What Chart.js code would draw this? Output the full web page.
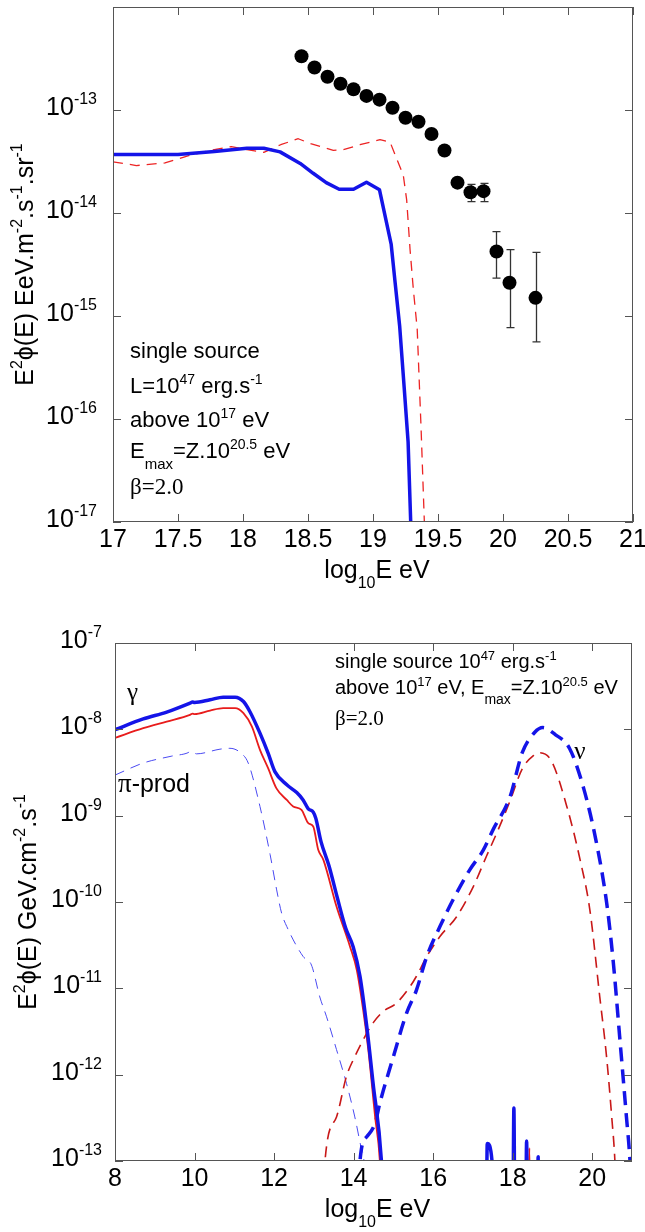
<!DOCTYPE html>
<html>
<head>
<meta charset="utf-8">
<script src="https://cdn.jsdelivr.net/npm/chart.js@4.4.1/dist/chart.umd.min.js"></script>
<style>
  html,body{margin:0;padding:0;background:#fff;}
  canvas{display:block;}
</style>
</head>
<body>
<canvas id="topChart" width="645" height="600"></canvas>
<canvas id="botChart" width="645" height="632"></canvas>
<script>
/* ================= TOP PANEL DATA ================= */
const topXTicks  = [17, 17.5, 18, 18.5, 19, 19.5, 20, 20.5, 21];
const topXLabels = ["17", "17.5", "18", "18.5", "19", "19.5", "20", "20.5", "21"];
const topYTicks  = [1e-17, 1e-16, 1e-15, 1e-14, 1e-13];
const topYExp    = ["-17", "-16", "-15", "-14", "-13"];

// measured spectrum (points + error bars)
const topDataE    = [18.45, 18.55, 18.65, 18.75, 18.85, 18.95, 19.05, 19.15, 19.25, 19.35, 19.45, 19.55, 19.65, 19.75, 19.85, 19.95, 20.05, 20.25];
const topDataFlux = [3.33e-13, 2.59e-13, 2.10e-13, 1.80e-13, 1.59e-13, 1.37e-13, 1.26e-13, 1.05e-13, 8.4e-14, 7.7e-14, 5.85e-14, 4.05e-14, 1.97e-14, 1.59e-14, 1.63e-14, 4.23e-15, 2.10e-15, 1.50e-15];
const topErrLo    = [null, null, null, null, null, null, null, null, null, null, null, null, null, 1.29e-14, 1.29e-14, 2.33e-15, 7.7e-16, 5.6e-16];
const topErrHi    = [null, null, null, null, null, null, null, null, null, null, null, null, null, 1.90e-14, 1.94e-14, 6.6e-15, 4.4e-15, 4.15e-15];

// model, blue solid
const topBlueE = [17, 17.5, 17.78, 18.03, 18.16, 18.285, 18.44, 18.54, 18.64, 18.74, 18.85, 18.95, 19.05, 19.14, 19.17, 19.205, 19.24, 19.27, 19.29, 19.31];
const topBlueF = [3.69e-14, 3.69e-14, 3.95e-14, 4.26e-14, 4.26e-14, 3.92e-14, 3.03e-14, 2.43e-14, 1.97e-14, 1.70e-14, 1.70e-14, 1.99e-14, 1.68e-14, 4.95e-15, 2.12e-15, 8.0e-16, 2.0e-16, 6e-17, 1e-17, 1e-18];

// model, red dashed
const topRedE = [17, 17.18, 17.40, 17.59, 17.75, 17.91, 18.03, 18.16, 18.29, 18.425, 18.52, 18.695, 18.77, 18.9, 19.054, 19.131, 19.233, 19.259, 19.285, 19.31, 19.34, 19.37, 19.395, 19.42];
const topRedF = [3.14e-14, 2.89e-14, 3.06e-14, 3.63e-14, 4.05e-14, 4.41e-14, 4.12e-14, 3.88e-14, 4.6e-14, 5.26e-14, 4.71e-14, 4.06e-14, 4.12e-14, 4.6e-14, 5.15e-14, 4.89e-14, 2.33e-14, 1.34e-14, 4.43e-15, 1.83e-15, 7.5e-16, 8e-17, 1e-17, 1e-18];

/* ================= BOTTOM PANEL DATA ================= */
const botXTicks  = [8, 10, 12, 14, 16, 18, 20];
const botXLabels = ["8", "10", "12", "14", "16", "18", "20"];
const botYTicks  = [1e-13, 1e-12, 1e-11, 1e-10, 1e-9, 1e-8, 1e-7];
const botYExp    = ["-13", "-12", "-11", "-10", "-9", "-8", "-7"];

// gamma total, blue solid
const gammaE = [8.0, 8.71, 9.30, 9.885, 9.95, 10.0, 10.39, 10.72, 11.02, 11.23, 11.39, 11.645, 11.85, 12.02, 12.32, 12.57, 12.73, 12.86, 12.985, 13.05, 13.18, 13.38, 13.59, 13.80, 13.99, 14.16, 14.33, 14.49, 14.70, 14.80,
                17.33, 17.36, 17.48, 17.50, 18.00, 18.03, 18.06, 18.32, 18.35, 18.38, 18.62, 18.64, 18.66];
const gammaF = [9.9e-9, 1.32e-8, 1.585e-8, 2.01e-8, 2.07e-8, 2.05e-8, 2.20e-8, 2.36e-8, 2.36e-8, 2.10e-8, 1.61e-8, 9.03e-9, 5.30e-9, 3.24e-9, 2.28e-9, 1.85e-9, 1.52e-9, 1.20e-9, 1.10e-9, 9.3e-10, 5.0e-10, 2.63e-10, 1.12e-10, 5.0e-11, 3.02e-11, 1.38e-11, 3.63e-12, 7.9e-13, 1e-13, 1e-14,
                1e-14, 1.6e-13, 1e-13, 1e-14, 1e-14, 4.1e-13, 1e-14, 1e-14, 1.7e-13, 1e-14, 1e-14, 1.12e-13, 1e-14];

// gamma second curve, red solid
const gammaRedE = [8.0, 8.71, 9.30, 9.885, 9.95, 10.0, 10.39, 10.72, 11.02, 11.23, 11.44, 11.645, 11.85, 12.06, 12.32, 12.48, 12.69, 12.86, 12.985, 13.11, 13.24, 13.57, 13.91, 14.08, 14.24, 14.37, 14.54, 14.66, 14.75, 18.38, 18.42, 18.45];
const gammaRedF = [7.94e-9, 1.03e-8, 1.23e-8, 1.47e-8, 1.52e-8, 1.50e-8, 1.65e-8, 1.76e-8, 1.76e-8, 1.54e-8, 1.08e-8, 5.79e-9, 3.55e-9, 2.07e-9, 1.52e-9, 1.28e-9, 1.17e-9, 8.18e-10, 7.48e-10, 4.02e-10, 3.08e-10, 8.85e-11, 3.04e-11, 1.63e-11, 5.62e-12, 1.93e-12, 3.26e-13, 1e-13, 1e-14, 1e-14, 1.41e-13, 1e-14];

// pi-production, thin blue dashed
const piE = [8.0, 8.71, 9.43, 9.84, 9.90, 10.05, 10.64, 10.89, 11.18, 11.35, 11.645, 11.90, 12.065, 12.19, 12.32, 12.73, 12.94, 13.15, 13.32, 13.57, 13.82, 14.03, 14.20, 14.26, 14.35];
const piF = [2.95e-9, 4.07e-9, 4.90e-9, 5.37e-9, 5.6e-9, 5.2e-9, 5.89e-9, 6.03e-9, 5.25e-9, 4.07e-9, 1.28e-9, 3.55e-10, 1.38e-10, 7.41e-11, 5.19e-11, 2.34e-11, 1.86e-11, 7.94e-12, 4.68e-12, 1.95e-12, 7.94e-13, 3.24e-13, 1.35e-13, 1e-13, 1e-14];

// neutrinos, thick blue dashed
const nuE = [14.10, 14.16, 14.33, 14.54, 14.66, 15.0, 15.33, 15.58, 15.84, 16.17, 16.50, 16.92, 17.26, 17.52, 17.93, 18.24, 18.55, 18.76, 19.07, 19.43, 19.79, 20.10, 20.36, 20.53, 20.69, 20.86, 20.95, 21.05];
const nuF = [1e-14, 1e-13, 1.91e-13, 2.75e-13, 4.68e-13, 1.62e-12, 5.13e-12, 9.55e-12, 2.34e-11, 5.19e-11, 1.06e-10, 2.36e-10, 3.98e-10, 7.08e-10, 1.64e-9, 5.36e-9, 9.18e-9, 1.047e-8, 8.7e-9, 6.0e-9, 2.03e-9, 5.01e-10, 1e-10, 2.0e-11, 2.75e-12, 3.24e-13, 1e-13, 1e-14];

// neutrinos, red dashed
const nuRedE = [13.20, 13.28, 13.57, 13.82, 14.03, 14.33, 14.49, 14.74, 15.08, 15.42, 15.58, 15.84, 16.17, 16.59, 17.01, 17.34, 17.6, 17.93, 18.24, 18.55, 18.65, 18.97, 19.38, 19.69, 19.94, 20.19, 20.36, 20.49, 20.57, 20.65];
const nuRedF = [1e-14, 1e-13, 3.24e-13, 9.55e-13, 1.62e-12, 3.02e-12, 3.98e-12, 5.37e-12, 6.76e-12, 1.05e-11, 1.38e-11, 2.34e-11, 3.98e-11, 6.76e-11, 1.51e-10, 3.39e-10, 6.31e-10, 1.47e-9, 3.48e-9, 5.08e-9, 5.36e-9, 4.33e-9, 1.19e-9, 3.16e-10, 8.13e-11, 7.94e-12, 1.62e-12, 3.24e-13, 1e-13, 1e-14];

/* ================= HELPERS ================= */
const SANS  = '"Liberation Sans", Arial, Helvetica, sans-serif';
const SERIF = '"Liberation Serif", "Times New Roman", serif';

function pts(xs, ys){ return xs.map((v, i) => ({x: v, y: ys[i]})); }

// parts: [text, size, dy, family]
function rich(ctx, parts, x, y, align){
  let w = 0;
  parts.forEach(p => { ctx.font = p[1] + "px " + (p[3] || SANS); w += ctx.measureText(p[0]).width; });
  let cx = align === "right" ? x - w : align === "center" ? x - w / 2 : x;
  parts.forEach(p => {
    ctx.font = p[1] + "px " + (p[3] || SANS);
    ctx.fillText(p[0], cx, y + (p[2] || 0));
    cx += ctx.measureText(p[0]).width;
  });
}

function line(data, color, width, dash, smooth){
  return {
    data, borderColor: color, borderWidth: width, borderDash: dash || [],
    pointRadius: 0, fill: false, clip: 0, borderJoinStyle: "round",
    cubicInterpolationMode: smooth ? "monotone" : "default", tension: 0
  };
}

// frame, inward ticks, tick labels, titles
function axesPlugin(cfg){
  return {
    id: "axes",
    afterDraw(chart){
      const {ctx, chartArea: a, scales: {x, y}} = chart;
      ctx.save();
      ctx.strokeStyle = "#555";
      ctx.lineWidth = 1;
      ctx.strokeRect(a.left + 0.5, a.top + 0.5, a.right - a.left - 1, a.bottom - a.top - 1);
      ctx.beginPath();
      cfg.xTicks.forEach(v => {
        const px = Math.round(x.getPixelForValue(v)) + 0.5;
        ctx.moveTo(px, a.bottom); ctx.lineTo(px, a.bottom - 8);
        ctx.moveTo(px, a.top);    ctx.lineTo(px, a.top + 8);
      });
      cfg.yTicks.forEach(v => {
        const py = Math.round(y.getPixelForValue(v)) + 0.5;
        ctx.moveTo(a.left, py);  ctx.lineTo(a.left + 8, py);
        ctx.moveTo(a.right, py); ctx.lineTo(a.right - 8, py);
      });
      ctx.stroke();

      ctx.fillStyle = "#000";
      ctx.textBaseline = "alphabetic";
      ctx.textAlign = "left";
      cfg.xTicks.forEach((v, i) => {
        rich(ctx, [[cfg.xLabels[i], 25]], x.getPixelForValue(v), a.bottom + 25, "center");
      });
      cfg.yTicks.forEach((v, i) => {
        rich(ctx, [["10", 25], [cfg.yExp[i], 16, -11]], a.left - cfg.yGap, y.getPixelForValue(v) + 5, "right");
      });
      // x title
      rich(ctx, [["log", 25], ["10", 16, 10], ["E eV", 25]], (a.left + a.right) / 2 + 4, a.bottom + 56, "center");
      // y title
      ctx.save();
      ctx.translate(cfg.yTitleX, (a.top + a.bottom) / 2);
      ctx.rotate(-Math.PI / 2);
      rich(ctx, cfg.yTitle, 0, 0, "center");
      ctx.restore();
      cfg.notes(ctx);
      ctx.restore();
    }
  };
}

/* ================= TOP CHART ================= */
const errorBars = {
  id: "errorBars",
  beforeDatasetsDraw(chart){
    const {ctx, scales: {x, y}} = chart;
    ctx.save();
    ctx.strokeStyle = "#333";
    ctx.lineWidth = 1.3;
    topDataE.forEach((e, i) => {
      if (topErrLo[i] == null) return;
      const px = Math.round(x.getPixelForValue(e)) + 0.5;
      const y1 = y.getPixelForValue(topErrLo[i]);
      const y2 = y.getPixelForValue(topErrHi[i]);
      ctx.beginPath();
      ctx.moveTo(px, y1); ctx.lineTo(px, y2);
      ctx.moveTo(px - 4, y1); ctx.lineTo(px + 4, y1);
      ctx.moveTo(px - 4, y2); ctx.lineTo(px + 4, y2);
      ctx.stroke();
    });
    ctx.restore();
  }
};

new Chart(document.getElementById("topChart"), {
  type: "line",
  data: {
    datasets: [
      { data: pts(topDataE, topDataFlux), showLine: false, pointRadius: 7, pointBackgroundColor: "#000",
        pointBorderColor: "#000", pointBorderWidth: 0, clip: 0 },
      line(pts(topBlueE, topBlueF), "#1414e8", 3.5),
      line(pts(topRedE, topRedF), "#ec2424", 1.3, [10, 7])
    ]
  },
  options: {
    responsive: false, devicePixelRatio: 1, animation: false,
    layout: { padding: { left: 113, top: 2, right: 12, bottom: 78 } },
    plugins: { legend: { display: false }, tooltip: { enabled: false } },
    scales: {
      x: { type: "linear", min: 17, max: 21, display: false },
      y: { type: "logarithmic", min: 1e-17, max: 1e-12, display: false }
    }
  },
  plugins: [errorBars, axesPlugin({
    xTicks: topXTicks, xLabels: topXLabels, yTicks: topYTicks, yExp: topYExp, yGap: 16,
    yTitleX: 33,
    yTitle: [["E", 25], ["2", 16, -11], ["\u03d5", 25], ["(E) EeV.m", 25], ["-2", 16, -11], [".s", 25], ["-1", 16, -11], [".sr", 25], ["-1", 16, -11]],
    notes(ctx){
      const s = 22, u = 14;
      rich(ctx, [["single source", s]], 130, 358);
      rich(ctx, [["L=10", s], ["47", u, -9], [" erg.s", s], ["-1", u, -9]], 130, 393);
      rich(ctx, [["above 10", s], ["17", u, -9], [" eV", s]], 130, 427);
      rich(ctx, [["E", s], ["max", 15, 11], ["=Z.10", s], ["20.5", u, -9], [" eV", s]], 130, 458);
      rich(ctx, [["\u03b2=2.0", 23, 0, SERIF]], 130, 494);
    }
  })]
});

/* ================= BOTTOM CHART ================= */
new Chart(document.getElementById("botChart"), {
  type: "line",
  data: {
    datasets: [
      line(pts(gammaE, gammaF), "#1414e8", 3.5, null, true),
      line(pts(gammaRedE, gammaRedF), "#e81c1c", 1.8, null, true),
      line(pts(nuE, nuF), "#1414e8", 3.5, [14, 8], true),
      line(pts(nuRedE, nuRedF), "#c81818", 1.6, [11, 7], true),
      line(pts(piE, piF), "#4a4af2", 1.0, [10, 7], true)
    ]
  },
  options: {
    responsive: false, devicePixelRatio: 1, animation: false,
    layout: { padding: { left: 115, top: 43, right: 13, bottom: 71 } },
    plugins: { legend: { display: false }, tooltip: { enabled: false } },
    scales: {
      x: { type: "linear", min: 8, max: 21, display: false },
      y: { type: "logarithmic", min: 1e-13, max: 1e-7, display: false }
    }
  },
  plugins: [axesPlugin({
    xTicks: botXTicks, xLabels: botXLabels, yTicks: botYTicks, yExp: botYExp, yGap: 13,
    yTitleX: 36,
    yTitle: [["E", 25], ["2", 16, -11], ["\u03d5", 25], ["(E) GeV.cm", 25], ["-2", 16, -11], [".s", 25], ["-1", 16, -11]],
    notes(ctx){
      const s = 20, u = 13;
      rich(ctx, [["single source 10", s], ["47", u, -8], [" erg.s", s], ["-1", u, -8]], 335, 68);
      rich(ctx, [["above 10", s], ["17", u, -8], [" eV, E", s], ["max", 14, 10], ["=Z.10", s], ["20.5", u, -8], [" eV", s]], 335, 94);
      rich(ctx, [["\u03b2=2.0", 21, 0, SERIF]], 335, 125);
      rich(ctx, [["\u03b3", 25, 0, SERIF]], 127, 100);
      rich(ctx, [["\u03c0", 27, 0, SERIF], ["-prod", 25]], 118, 192);
      rich(ctx, [["\u03bd", 25, 0, SERIF]], 580, 159, "center");
    }
  })]
});
</script>
</body>
</html>
